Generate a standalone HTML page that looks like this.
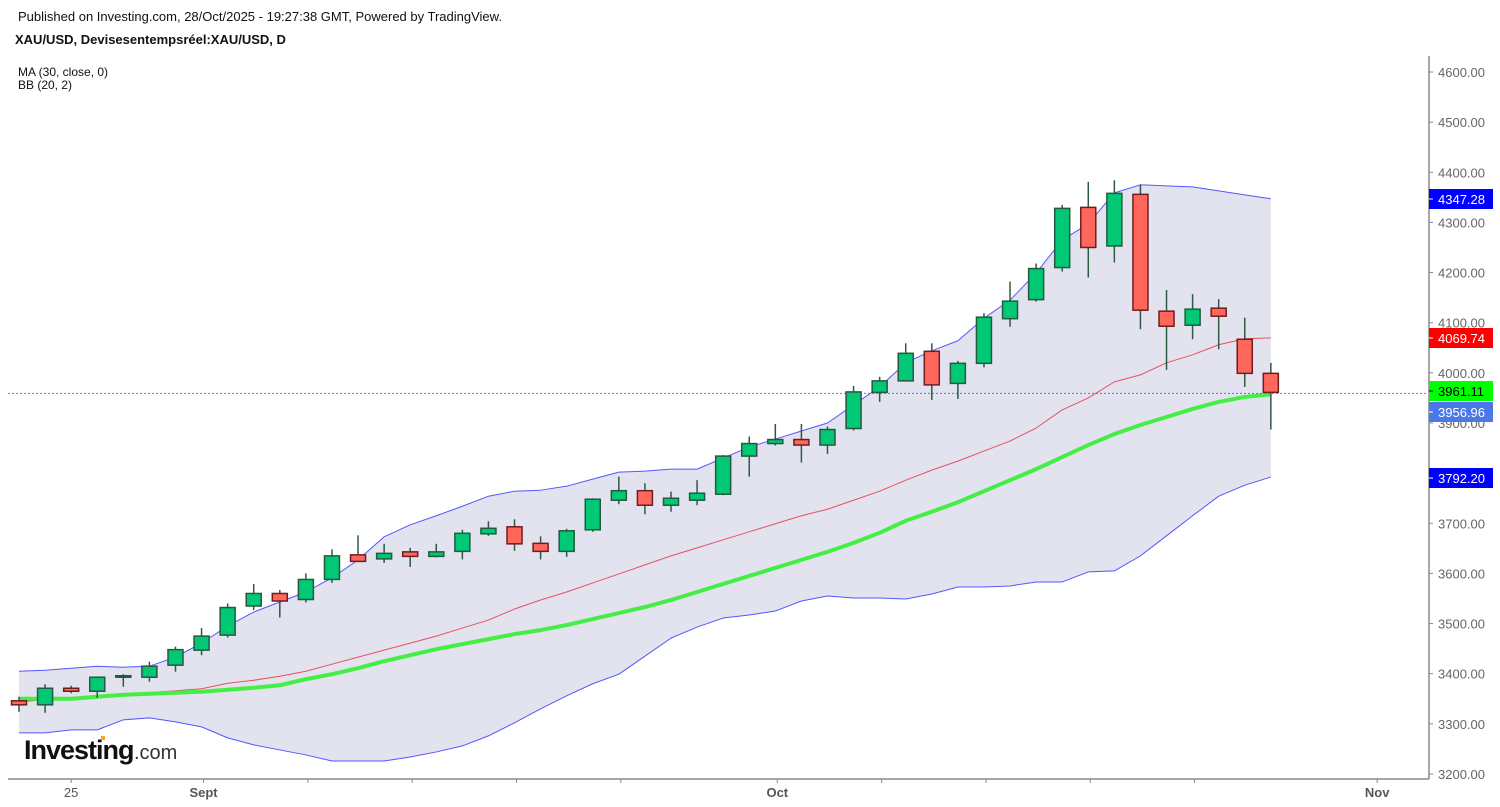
<!DOCTYPE html>
<html><head><meta charset="utf-8"><title>XAU/USD chart</title>
<style>
html,body{margin:0;padding:0;background:#fff;}
body{width:1500px;height:807px;overflow:hidden;font-family:"Liberation Sans",Arial,sans-serif;position:relative;}
.t{position:absolute;white-space:nowrap;color:#111;}
</style></head>
<body>
<div class="t" style="left:18px;top:9px;font-size:13px;">Published on Investing.com, 28/Oct/2025 - 19:27:38 GMT, Powered by TradingView.</div>
<div class="t" style="left:15px;top:32px;font-size:13px;font-weight:bold;">XAU/USD, Devisesentempsréel:XAU/USD, D</div>
<div class="t" style="left:18px;top:66px;font-size:12px;line-height:13px;">MA (30, close, 0)<br>BB (20, 2)</div>
<svg id="chart" width="1500" height="807" style="position:absolute;left:0;top:0;">
<g id="band"></g><g id="lines"></g><g id="candles"></g><g id="axes"></g>
<g>
<text x="24" y="759" font-family="Liberation Sans, Arial, sans-serif" font-size="27" font-weight="bold" fill="#111" letter-spacing="-1">Investing</text>
<text x="134" y="759" font-family="Liberation Sans, Arial, sans-serif" font-size="20" fill="#333">.com</text>
<rect x="101" y="736" width="4" height="4" fill="#f5a623"/>
</g>
</svg>
<script>
const opens=[3346,3338,3371,3365,3393,3393,3417,3447,3477,3535,3560,3548,3588,3637,3629,3643,3634,3644,3679,3693,3660,3644,3687,3746,3765,3736,3746,3758,3834,3859,3867,3856,3889,3961,3984,4043,3979,4019,4108,4146,4210,4330,4253,4356,4123,4095,4129,4067,3999];
const highs=[3354,3379,3376,3394,3399,3424,3454,3491,3540,3579,3567,3600,3648,3676,3659,3651,3659,3687,3704,3708,3674,3689,3750,3793,3780,3763,3786,3836,3873,3898,3898,3893,3974,3992,4059,4059,4024,4119,4182,4218,4335,4381,4384,4376,4165,4157,4147,4110,4020];
const lows=[3324,3322,3361,3352,3374,3384,3404,3437,3472,3527,3512,3542,3581,3624,3621,3613,3632,3628,3675,3645,3628,3633,3683,3738,3718,3723,3736,3756,3793,3855,3821,3838,3885,3942,3983,3946,3948,4011,4092,4142,4202,4190,4220,4087,4006,4067,4047,3972,3887];
const closes=[3338,3371,3365,3393,3396,3415,3448,3475,3532,3560,3545,3588,3635,3624,3640,3634,3643,3680,3690,3659,3644,3685,3748,3765,3736,3750,3760,3834,3859,3867,3856,3887,3962,3984,4039,3976,4019,4111,4143,4208,4328,4250,4358,4125,4093,4127,4113,3999,3961.11];
const bbUpper=[3405,3407,3411,3415,3413,3415,3433,3461,3495,3523,3543,3563,3591,3627,3673,3697,3715,3734,3754,3764,3766,3774,3788,3802,3804,3808,3808,3830,3852,3868,3884,3900,3936,3972,4020,4044,4064,4109,4145,4199,4265,4297,4359,4375,4373,4371,4363,4355,4347.28];
const bbLower=[3282,3282,3288,3288,3308,3312,3304,3294,3272,3258,3248,3238,3226,3226,3226,3234,3244,3256,3276,3302,3330,3356,3380,3399,3435,3471,3493,3511,3517,3525,3545,3555,3551,3551,3549,3559,3573,3573,3575,3583,3583,3603,3605,3635,3675,3715,3754,3776,3792.20];
const bbBasis=[3344,3348,3350,3354,3358,3362,3366,3370,3381,3387,3395,3405,3419,3433,3447,3461,3475,3491,3507,3529,3547,3563,3581,3599,3617,3635,3651,3667,3683,3699,3715,3728,3746,3764,3786,3806,3824,3844,3864,3890,3926,3950,3982,3996,4020,4036,4056,4068,4069.74];
const ma30=[3350,3350,3350,3354,3358,3360,3362,3364,3368,3372,3377,3389,3399,3411,3425,3437,3449,3459,3469,3479,3487,3497,3509,3521,3533,3547,3563,3579,3595,3611,3627,3643,3661,3681,3705,3723,3742,3764,3786,3808,3832,3856,3878,3896,3912,3928,3942,3952,3956.96];
const priceTicks=[3200,3300,3400,3500,3600,3700,3800,3900,4000,4100,4200,4300,4400,4500,4600];
const timeLabels=["25","Sept","Oct","Nov"];
const timeIdx=[2,7,29,52];
const timeBold=[false,true,true,true];

const NS="http://www.w3.org/2000/svg";
const yOf=p=>774-(p-3200)*(702/1400);
const xOf=i=>19+i*26.08;
function mk(tag,attrs,parent){const e=document.createElementNS(NS,tag);for(const k in attrs)e.setAttribute(k,attrs[k]);parent.appendChild(e);return e;}
const band=document.getElementById('band'),lines=document.getElementById('lines'),cg=document.getElementById('candles'),ax=document.getElementById('axes');

let d='';bbUpper.forEach((v,i)=>d+=(i?'L':'M')+xOf(i)+' '+yOf(v));
for(let i=bbLower.length-1;i>=0;i--)d+='L'+xOf(i)+' '+yOf(bbLower[i]);
const bf=mk('path',{d:d+'Z',fill:'#e3e3f0'},band);


function line(arr,color,w,name){let s='';arr.forEach((v,i)=>s+=(i?'L':'M')+xOf(i)+' '+yOf(v));
const p=mk('path',{d:s,fill:'none',stroke:color,'stroke-width':w,'stroke-linejoin':'round'},lines);

}
line(bbUpper,'#5555ff',1,'bb-upper-line');
line(bbLower,'#5555ff',1,'bb-lower-line');
line(bbBasis,'#e8505f',1,'bb-basis-line');
line(ma30,'#44ee44',4,'ma30-line');
const dl=mk('line',{x1:8,x2:1428,y1:yOf(3961.11)+1,y2:yOf(3961.11)+1,stroke:'#5577ee','stroke-width':1,'stroke-dasharray':'2,2'},lines);



closes.forEach((c,i)=>{const o=opens[i],up=c>=o,x=xOf(i);
const g=mk('g',{},cg);


mk('line',{x1:x,x2:x,y1:yOf(highs[i]),y2:yOf(lows[i]),stroke:'#2d5a45','stroke-width':1.5},g);
const top=yOf(Math.max(o,c)),bot=yOf(Math.min(o,c));
mk('rect',{x:x-7.5,y:top,width:15,height:Math.max(bot-top,1.5),fill:up?'#00c874':'#ff665c',stroke:up?'#235a40':'#6e1e1e','stroke-width':1.5},g);});

mk('line',{x1:1429,x2:1429,y1:56,y2:779,stroke:'#888','stroke-width':1.5},ax);
mk('line',{x1:8,x2:1429,y1:779,y2:779,stroke:'#888','stroke-width':1.5},ax);
priceTicks.forEach(p=>{const y=yOf(p);
mk('line',{x1:1429,x2:1433,y1:y,y2:y,stroke:'#888'},ax);
const t=mk('text',{x:1438,y:y+5,'font-size':13,fill:'#666','font-family':'Liberation Sans, Arial, sans-serif'},ax);
t.textContent=p.toFixed(2);

});
[11,15,19,23,33,37,41,45].forEach(i=>{const x=xOf(i)+2;mk('line',{x1:x,x2:x,y1:779,y2:783,stroke:'#888'},ax);});
timeLabels.forEach((l,k)=>{const x=xOf(timeIdx[k])+(k==0?0:2);
mk('line',{x1:x,x2:x,y1:779,y2:783,stroke:'#888'},ax);
const t=mk('text',{x:x,y:797,'text-anchor':'middle','font-size':13,fill:'#555','font-weight':timeBold[k]?'bold':'normal','font-family':'Liberation Sans, Arial, sans-serif'},ax);
t.textContent=l;

});
const badges=[[4347.28,199,'#0000ff','#fff'],[4069.74,338,'#ff0000','#fff'],[3961.11,391,'#00ff00','#000'],[3956.96,412,'#4a78e8','#fff'],[3792.20,478,'#0000ff','#fff']];
badges.forEach(b=>{const g=mk('g',{},ax);


mk('rect',{x:1429,y:b[1]-10,width:64,height:20,fill:b[2]},g);
mk('line',{x1:1429,x2:1433,y1:b[1],y2:b[1],stroke:b[3]},g);
const t=mk('text',{x:1438,y:b[1]+5,'font-size':13,fill:b[3],'font-family':'Liberation Sans, Arial, sans-serif'},g);t.textContent=b[0].toFixed(2);});
</script>
</body></html>
